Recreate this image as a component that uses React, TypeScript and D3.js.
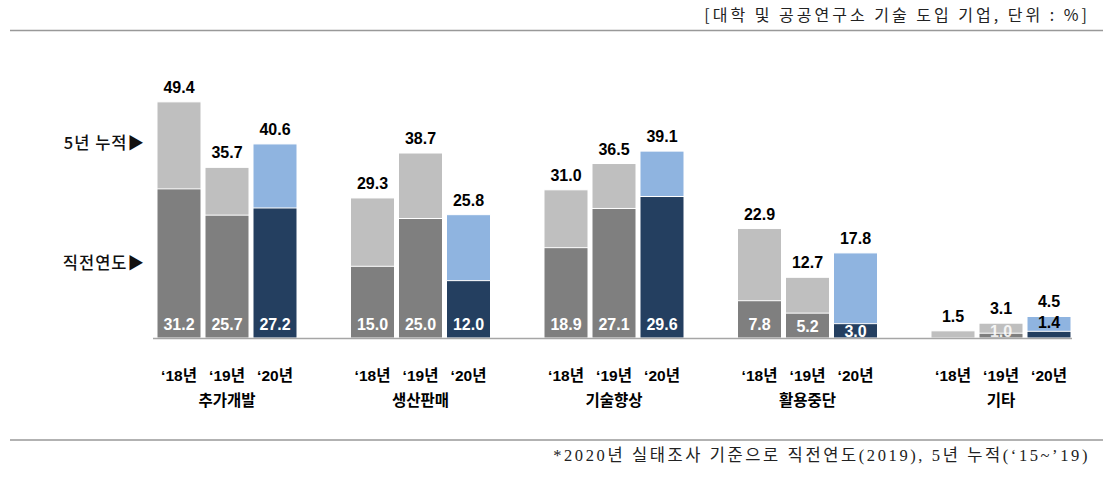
import React from "react";
import * as d3 from "d3";

const categories = ["추가개발", "생산판매", "기술향상", "활용중단", "기타"];
const years = ["'18", "'19", "'20"];
const yearLabels = ["‘18년", "‘19년", "‘20년"];
// 5-year cumulative (total bar height)
const cumulative18 = [49.4, 29.3, 31.0, 22.9, 1.5];
const cumulative19 = [35.7, 38.7, 36.5, 12.7, 3.1];
const cumulative20 = [40.6, 25.8, 39.1, 17.8, 4.5];
// previous year (lower segment)
const previous18 = [31.2, 15.0, 18.9, 7.8, 0];
const previous19 = [25.7, 25.0, 27.1, 5.2, 1.0];
const previous20 = [27.2, 12.0, 29.6, 3.0, 1.4];
const yDomain = [0, 50];

const cumulativeBySeries = [cumulative18, cumulative19, cumulative20];
const previousBySeries = [previous18, previous19, previous20];
const lightColors = ["#bfbfbf", "#bfbfbf", "#8fb4e0"];
const darkColors = ["#7f7f7f", "#7f7f7f", "#243f60"];

const NUM_FONT = "'Liberation Sans', Arial, 'Noto Sans CJK KR', sans-serif";
const KR_FONT = "'Noto Sans CJK KR', sans-serif";
const SERIF_FONT = "'Liberation Serif', 'DejaVu Serif', 'Noto Sans CJK KR', serif";

export default function App() {
  const W = 1115;
  const H = 477;
  const baseY = 338;

  const x0 = d3
    .scaleBand<string>()
    .domain(categories)
    .range([157, 1071])
    .paddingInner(53.5 / 193.5)
    .paddingOuter(0);
  const x1 = d3
    .scaleBand<string>()
    .domain(years)
    .range([0, x0.bandwidth()])
    .paddingInner(4 / 48)
    .paddingOuter(0);
  const y = d3.scaleLinear().domain(yDomain).range([baseY, baseY - 239]);

  const bars: React.ReactNode[] = [];
  const labels: React.ReactNode[] = [];

  categories.forEach((cat, ci) => {
    years.forEach((yr, si) => {
      const total = cumulativeBySeries[si][ci];
      const prev = previousBySeries[si][ci];
      const bx = (x0(cat) ?? 0) + (x1(yr) ?? 0);
      const bw = x1.bandwidth();
      const cx = bx + bw / 2;
      bars.push(
        <rect
          key={`t-${ci}-${si}`}
          x={bx}
          y={y(total)}
          width={bw}
          height={baseY - y(total)}
          fill={lightColors[si]}
          stroke="#ffffff"
          strokeWidth={1}
        />
      );
      if (prev > 0) {
        bars.push(
          <rect
            key={`p-${ci}-${si}`}
            x={bx}
            y={y(prev)}
            width={bw}
            height={baseY - y(prev)}
            fill={darkColors[si]}
            stroke="#ffffff"
            strokeWidth={1}
          />
        );
      }
      labels.push(
        <text
          key={`lt-${ci}-${si}`}
          x={cx}
          y={y(total) - 9}
          textAnchor="middle"
          fontFamily={NUM_FONT}
          fontWeight="bold"
          fontSize={16}
          fill="#000"
        >
          {total.toFixed(1)}
        </text>
      );
      if (prev > 0) {
        const above = si === 2 && prev < 2;
        const mid = (y(prev) + baseY) / 2;
        const ly = above ? y(prev) - 3 : Math.min(337, Math.max(330, mid + 6));
        labels.push(
          <text
            key={`lp-${ci}-${si}`}
            x={cx}
            y={ly}
            textAnchor="middle"
            fontFamily={NUM_FONT}
            fontWeight="bold"
            fontSize={16}
            fill={above ? "#000" : "#ffffff"}
            opacity={prev < 2 && !above ? 0.85 : 1}
          >
            {prev.toFixed(1)}
          </text>
        );
      }
      labels.push(
        <text
          key={`xy-${ci}-${si}`}
          x={cx}
          y={381}
          textAnchor="middle"
          fontFamily={NUM_FONT}
          fontWeight="bold"
          fontSize={15.5}
          fill="#000"
        >
          {yearLabels[si]}
        </text>
      );
    });
    labels.push(
      <text
        key={`xc-${ci}`}
        x={(x0(cat) ?? 0) + x0.bandwidth() / 2}
        y={406}
        textAnchor="middle"
        fontFamily={KR_FONT}
        fontWeight="bold"
        fontSize={15.5}
        fill="#000"
      >
        {cat}
      </text>
    );
  });

  return (
    <svg
      width={W}
      height={H}
      style={{ position: "absolute", left: 0, top: 0, background: "#fff" }}
    >
      <text
        x={1090}
        y={21}
        textAnchor="end"
        fontFamily={KR_FONT}
        fontSize={16}
        letterSpacing={3}
        fill="#222"
      >
        [대학 및 공공연구소 기술 도입 기업, 단위 : %]
      </text>
      <line x1={10} x2={1103} y1={30.5} y2={30.5} stroke="#999" strokeWidth={1.5} />

      <text x={145} y={149} textAnchor="end" fontFamily={KR_FONT} fontWeight={500} fontSize={16.5} letterSpacing={1} fill="#111">
        5년 누적▶
      </text>
      <text x={145} y={269} textAnchor="end" fontFamily={KR_FONT} fontWeight={500} fontSize={16.5} letterSpacing={1} fill="#111">
        직전연도▶
      </text>

      {bars}
      <line x1={153} x2={1072} y1={baseY + 0.5} y2={baseY + 0.5} stroke="#a6a6a6" strokeWidth={1.5} />
      {labels}

      <line x1={10} x2={1103} y1={440} y2={440} stroke="#999" strokeWidth={1.5} />
      <text x={1090} y={461} textAnchor="end" fontFamily={SERIF_FONT} fontSize={16.5} letterSpacing={2.6} fill="#222">
        *2020년 실태조사 기준으로 직전연도(2019), 5년 누적(‘15~’19)
      </text>
    </svg>
  );
}
